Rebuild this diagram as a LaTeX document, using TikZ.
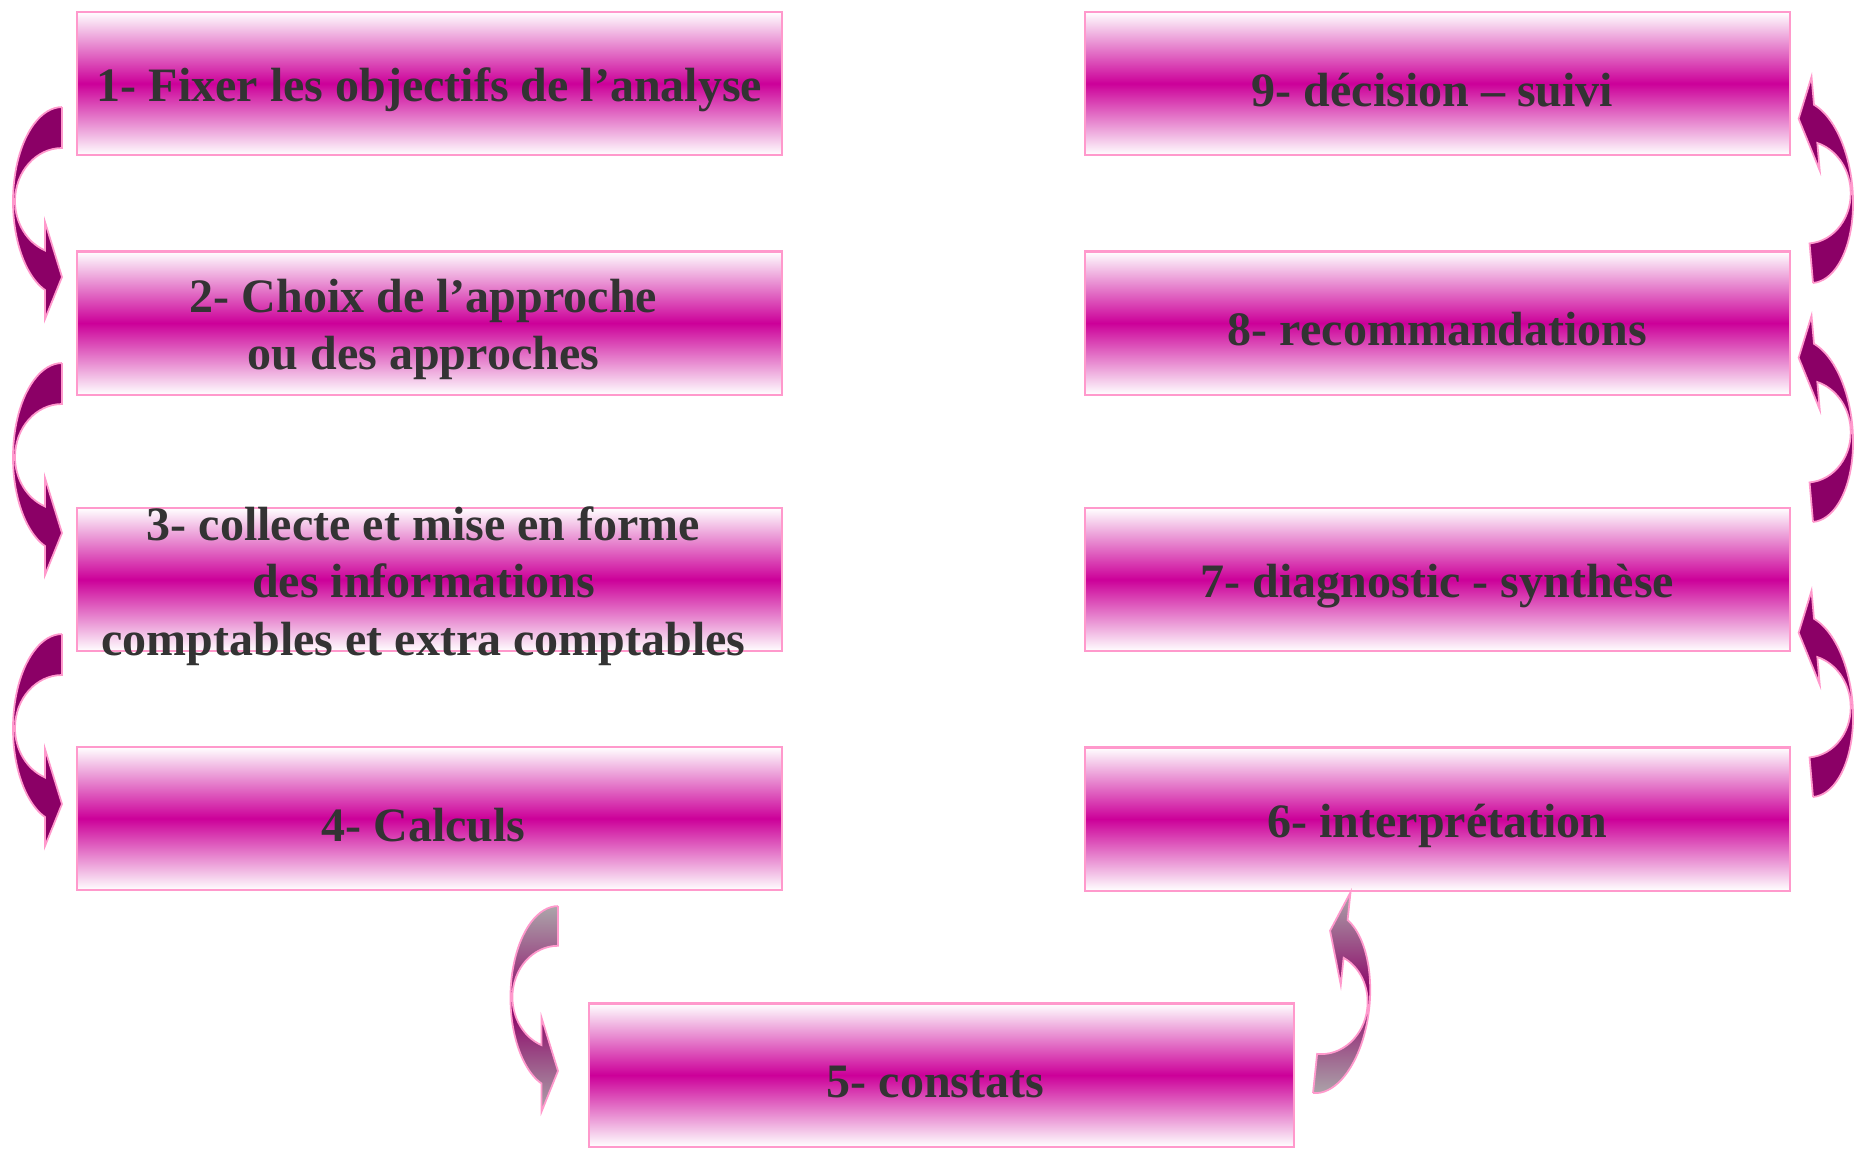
\documentclass[tikz,border=0pt]{standalone}
\usepackage{fontspec}
\setmainfont{Liberation Serif}
\definecolor{edgepink}{RGB}{255,153,204}
\definecolor{boxmag}{RGB}{204,0,153}
\definecolor{arrpurple}{RGB}{139,0,102}
\definecolor{arrgray}{RGB}{172,166,170}
\definecolor{txtgray}{RGB}{51,51,51}
% outline of one bent arrow, tail corner at the origin
\newcommand\bendpath{(0,0) -- (0,-41)
  arc[start angle=90, end angle=248.8, x radius=47, y radius=53]
  -- (-17,-115) -- (0,-170) -- (-17,-212) -- (-17,-183)
  arc[start angle=249.7, end angle=90, x radius=49, y radius=94.4] -- cycle}

\begin{document}
\begin{tikzpicture}[x=0.01cm, y=0.01cm,
    stepbox/.style={draw=edgepink, line width=0.6pt, top color=white,
      bottom color=white, middle color=boxmag, minimum width=7.05cm,
      minimum height=1.43cm, inner sep=0pt},
    steptext/.style={text=txtgray, align=center, yshift=-0.065cm,
      font=\fontsize{13.65}{16.4}\selectfont\bfseries},
    solidarr/.style={draw=edgepink, line width=0.5pt, fill=arrpurple},
    fadearr/.style={draw=edgepink, line width=0.5pt, top color=arrgray,
      bottom color=arrgray, middle color=arrpurple}
   ]
  \useasboundingbox (0,0) rectangle (1864,-1153);
  % left column
  \node[stepbox] (e1) at (429.5,-83.5) {};
  \node[stepbox] (e2) at (429.5,-323) {};
  \node[stepbox] (e3) at (429.5,-579.5) {};
  \node[stepbox] (e4) at (429.5,-818.5) {};
  % bottom
  \node[stepbox] (e5) at (941.5,-1075) {};
  % right column
  \node[stepbox] (e6) at (1437.5,-819) {};
  \node[stepbox] (e7) at (1437.5,-579.5) {};
  \node[stepbox] (e8) at (1437.5,-323) {};
  \node[stepbox] (e9) at (1437.5,-83.5) {};

  \node[steptext] (t1) at (e1) {1- Fixer les objectifs de l’analyse};
  \node[steptext, xshift=-0.06cm] (t2) at (e2) {2- Choix de l’approche\\ ou des approches};
  \node[steptext, xshift=-0.06cm] (t3) at (e3) {3- collecte et mise en forme\\ des informations\\ comptables et extra comptables};
  \node[steptext, xshift=-0.06cm] (t4) at (e4) {4- Calculs};
  \node[steptext, xshift=-0.06cm] (t5) at (e5) {5- constats};
  \node[steptext] (t6) at (e6) {6- interprétation};
  \node[steptext] (t7) at (e7) {7- diagnostic - synthèse};
  \node[steptext] (t8) at (e8) {8- recommandations};
  \node[steptext, xshift=-0.05cm] (t9) at (e9) {9- décision – suivi};

  % bent arrows
  \path[solidarr, shift={(62,-107)}] \bendpath;
  \path[solidarr, shift={(62,-363)}] \bendpath;
  \path[solidarr, shift={(62,-634)}] \bendpath;
  \path[fadearr, shift={(558,-906)}, scale=0.97] \bendpath;
  \path[fadearr, shift={(1313,-1093)}, rotate=174, scale=0.96] \bendpath;
  \path[solidarr, shift={(1813,-797)}, rotate=185, scale=0.97] \bendpath;
  \path[solidarr, shift={(1813,-522)}, rotate=185, scale=0.97] \bendpath;
  \path[solidarr, shift={(1813,-283)}, rotate=185, scale=0.97] \bendpath;
\end{tikzpicture}
\end{document}
